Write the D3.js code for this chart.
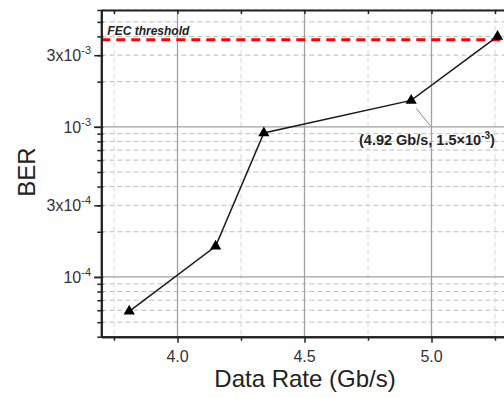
<!DOCTYPE html>
<html><head><meta charset="utf-8">
<script src="https://cdn.jsdelivr.net/npm/d3@7"></script>
<style>
body{margin:0;background:#fff;}
svg{display:block;font-family:"Liberation Sans",Arial,sans-serif;}
</style></head><body>
<svg id="c" width="504" height="398"></svg>
<script>
const rates = [3.81, 4.15, 4.34, 4.92, 5.26];
const ber = [5.9e-5, 1.6e-4, 9.1e-4, 1.5e-3, 4.0e-3];
const fecThreshold = 3.8e-3;
const xMajorTicks = [4.0, 4.5, 5.0];
const xMinorTicks = [3.75, 4.25, 4.75, 5.25];
const yMajorTicks = [1e-4, 3e-4, 1e-3, 3e-3];
const yTickPrefix = ["", "3x", "", "3x"];
const yTickExp = ["-4", "-4", "-3", "-3"];
const annotationText = ["(4.92 Gb/s, 1.5\u00d710", "-3", ")"];
const xTitle = "Data Rate (Gb/s)";
const yTitle = "BER";

const svg = d3.select("#c");
const L = 101.3, R = 507.7, T = 10, B = 336.7;
const x = d3.scaleLinear().domain([3.7, 5.3]).range([L, R]);
const y = d3.scaleLog().domain([4e-5, 6e-3]).range([B, T]);

const decades = [1e-4, 1e-3];
const yMinor = y.ticks().filter(v => !decades.some(d => Math.abs(v - d) / d < 1e-6));

// grid
const g = svg.append("g");
g.selectAll(".hminor").data(yMinor).join("line")
  .attr("x1", L).attr("x2", R).attr("y1", d => y(d)).attr("y2", d => y(d))
  .attr("stroke", "#bdbdbd").attr("stroke-width", 1).attr("stroke-dasharray", "5,3");
g.selectAll(".vminor").data(xMinorTicks).join("line")
  .attr("y1", T).attr("y2", B).attr("x1", d => x(d)).attr("x2", d => x(d))
  .attr("stroke", "#d8d8d8").attr("stroke-width", 1).attr("stroke-dasharray", "5,3");
g.selectAll(".hmajor").data(decades).join("line")
  .attr("x1", L).attr("x2", R).attr("y1", d => y(d)).attr("y2", d => y(d))
  .attr("stroke", "#a0a0a0").attr("stroke-width", 1.3);
g.selectAll(".vmajor").data(xMajorTicks).join("line")
  .attr("y1", T).attr("y2", B).attr("x1", d => x(d)).attr("x2", d => x(d))
  .attr("stroke", "#a0a0a0").attr("stroke-width", 1.3);

// FEC threshold
svg.append("line").attr("x1", L).attr("x2", R)
  .attr("y1", y(fecThreshold)).attr("y2", y(fecThreshold))
  .attr("stroke", "#ff0000").attr("stroke-width", 3).attr("stroke-dasharray", "9,6");
svg.append("text").attr("x", L + 6).attr("y", y(fecThreshold) - 5)
  .attr("font-size", 12).attr("font-weight", "bold").attr("font-style", "italic")
  .attr("fill", "#222").text("FEC threshold");

// axes
function styleAxis(sel) {
  sel.select(".domain").attr("stroke", "#222").attr("stroke-width", 2);
  sel.selectAll(".tick line").attr("stroke", "#222").attr("stroke-width", 1.5);
}
const yAxMinor = svg.append("g").attr("transform", `translate(${L},0)`)
  .call(d3.axisLeft(y).tickValues(yMinor).tickSize(4).tickSizeOuter(0).tickFormat(""));
styleAxis(yAxMinor);
const yAx = svg.append("g").attr("transform", `translate(${L},0)`)
  .call(d3.axisLeft(y).tickValues(yMajorTicks.concat(decades)).tickSize(7).tickSizeOuter(0).tickFormat(""));
styleAxis(yAx);
svg.append("g").attr("transform", `translate(${L},0)`)
  .call(d3.axisRight(y).tickValues(y.ticks()).tickSize(2).tickSizeOuter(0).tickFormat(""))
  .call(s => { s.select(".domain").remove(); s.selectAll(".tick line").attr("stroke", "#222").attr("stroke-width", 1.5); });

const xAxMinor = svg.append("g").attr("transform", `translate(0,${B})`)
  .call(d3.axisBottom(x).tickValues(xMinorTicks).tickSize(4).tickSizeOuter(0).tickFormat(""));
styleAxis(xAxMinor);
const xAx = svg.append("g").attr("transform", `translate(0,${B})`)
  .call(d3.axisBottom(x).tickValues(xMajorTicks).tickSize(6).tickSizeOuter(0).tickFormat(""));
styleAxis(xAx);
const topAx = svg.append("g").attr("transform", `translate(0,${T})`)
  .call(d3.axisBottom(x).tickValues(xMajorTicks.concat(xMinorTicks)).tickSize(4).tickSizeOuter(0).tickFormat(""));
styleAxis(topAx);

// tick labels
svg.selectAll(".xl").data(xMajorTicks).join("text")
  .attr("x", d => x(d)).attr("y", 362).attr("text-anchor", "middle")
  .attr("font-size", 16).attr("fill", "#333").text(d => d.toFixed(1));
const yl = svg.selectAll(".yl").data(yMajorTicks).join("text")
  .attr("x", 91).attr("y", d => y(d) + 6).attr("text-anchor", "end")
  .attr("font-size", 16).attr("fill", "#333");
yl.append("tspan").text((d, i) => yTickPrefix[i] + "10");
yl.append("tspan").attr("dy", -7).attr("font-size", 11).text((d, i) => yTickExp[i]);

// titles
svg.append("text").attr("x", 305).attr("y", 387).attr("text-anchor", "middle")
  .attr("font-size", 24).attr("fill", "#222").text(xTitle);
svg.append("text").attr("transform", "rotate(-90)").attr("x", -172).attr("y", 35)
  .attr("text-anchor", "middle").attr("font-size", 24).attr("fill", "#222").text(yTitle);

// annotation leader
const ai = 3;
svg.append("line").attr("x1", x(rates[ai]) + 5).attr("y1", y(ber[ai]) + 8)
  .attr("x2", x(5.0) - 1).attr("y2", y(1e-3) - 1)
  .attr("stroke", "#888").attr("stroke-width", 1);

// data
const line = d3.line().x(d => x(d[0])).y(d => y(d[1]));
const pts = rates.map((r, i) => [r, ber[i]]);
svg.append("path").attr("d", line(pts)).attr("fill", "none")
  .attr("stroke", "#1a1a1a").attr("stroke-width", 1.5);
svg.selectAll(".pt").data(pts).join("path")
  .attr("transform", d => `translate(${x(d[0])},${y(d[1])})`)
  .attr("d", d3.symbol(d3.symbolTriangle, 55)).attr("fill", "#000");

// annotation text
const at = svg.append("text").attr("x", 359).attr("y", 145)
  .attr("font-size", 14.5).attr("font-weight", "bold").attr("fill", "#222");
at.append("tspan").text(annotationText[0]);
at.append("tspan").attr("dy", -6).attr("font-size", 10).text(annotationText[1]);
at.append("tspan").attr("dy", 6).text(annotationText[2]);
</script></body></html>
